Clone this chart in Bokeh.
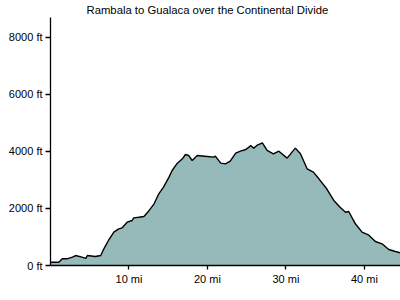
from bokeh.plotting import figure
from bokeh.models import Range1d, FixedTicker, CustomJSTickFormatter
from bokeh.embed import file_html
from bokeh.resources import INLINE

# distance (mi) and elevation (ft)
distance_mi = [0.0, 1.06, 1.5, 2.1, 2.8, 3.2, 4.0, 4.5, 4.7, 5.7, 6.4, 6.8, 7.43, 8.07, 8.7, 9.13,
               9.77, 10.4, 10.6, 11.25, 11.9, 12.5, 13.2, 13.8, 14.4, 15.1, 15.5, 16.1, 16.8,
               17.2, 17.6, 18.05, 18.7, 19.96, 20.8, 21.0, 21.7, 22.3, 22.9, 23.6, 24.2, 24.8,
               25.3, 25.5, 25.9, 26.3, 27.0, 27.6, 28.4, 29.1, 30.15, 31.2, 31.85, 32.7, 33.5,
               34.2, 35.2, 36.1, 36.9, 37.6, 38.0, 38.85, 39.7, 40.5, 41.4, 42.25, 43.1, 43.95, 44.6]
elevation_ft = [116, 116, 235, 235, 292, 350, 292, 250, 350, 315, 350, 585, 902, 1170, 1287, 1322,
                1520, 1579, 1672, 1695, 1719, 1906, 2164, 2515, 2749, 3099, 3333, 3567, 3743,
                3895, 3860, 3684, 3860, 3825, 3801, 3836, 3590, 3567, 3660, 3942, 4011, 4059,
                4152, 4211, 4117, 4211, 4305, 4035, 3918, 4011, 3766, 4117, 3918, 3392, 3275,
                3041, 2691, 2281, 2046, 1870, 1895, 1463, 1170, 1077, 842, 760, 561, 491, 444]
x_ticks = [10, 20, 30, 40]
y_ticks = [0, 2000, 4000, 6000, 8000]
title_text = "Rambala to Gualaca over the Continental Divide"

p = figure(width=400, height=300, output_backend="svg", toolbar_location=None,
           x_range=Range1d(0, 44.6), y_range=Range1d(0, 8700),
           min_border_left=50, min_border_right=0, min_border_top=0, min_border_bottom=35)
p.title.text = title_text
p.title.align = "left"
p.title.offset = 36
p.title.text_font = "Liberation Sans"
p.title.text_font_size = "11.3px"
p.title.text_font_style = "normal"
p.title.text_color = "black"
p.title.standoff = 3

p.varea(x=distance_mi, y1=0, y2=elevation_ft, fill_color="#96baba")
p.line(x=distance_mi, y=elevation_ft, line_color="black", line_width=1.4)

p.grid.visible = False
p.outline_line_color = None
p.background_fill_color = "white"

for ax in (p.xaxis, p.yaxis):
    ax.axis_line_color = "black"
    ax.axis_line_width = 1.3
    ax.major_tick_line_color = "black"
    ax.major_tick_line_width = 1.3
    ax.minor_tick_line_color = None
    ax.major_label_text_font = "Liberation Sans"
    ax.major_label_text_font_size = "11px"
    ax.major_label_text_color = "black"

p.xaxis.ticker = FixedTicker(ticks=x_ticks)
p.yaxis.ticker = FixedTicker(ticks=y_ticks)
p.xaxis.formatter = CustomJSTickFormatter(code="return tick + ' mi'")
p.yaxis.formatter = CustomJSTickFormatter(code="return tick + ' ft'")
p.xaxis.major_tick_out = 4
p.xaxis.major_tick_in = 0
p.yaxis.major_tick_out = 5
p.yaxis.major_tick_in = 0
p.xaxis.major_label_standoff = 3
p.yaxis.major_label_standoff = 3

open("out.html", "w").write(file_html(p, INLINE))
